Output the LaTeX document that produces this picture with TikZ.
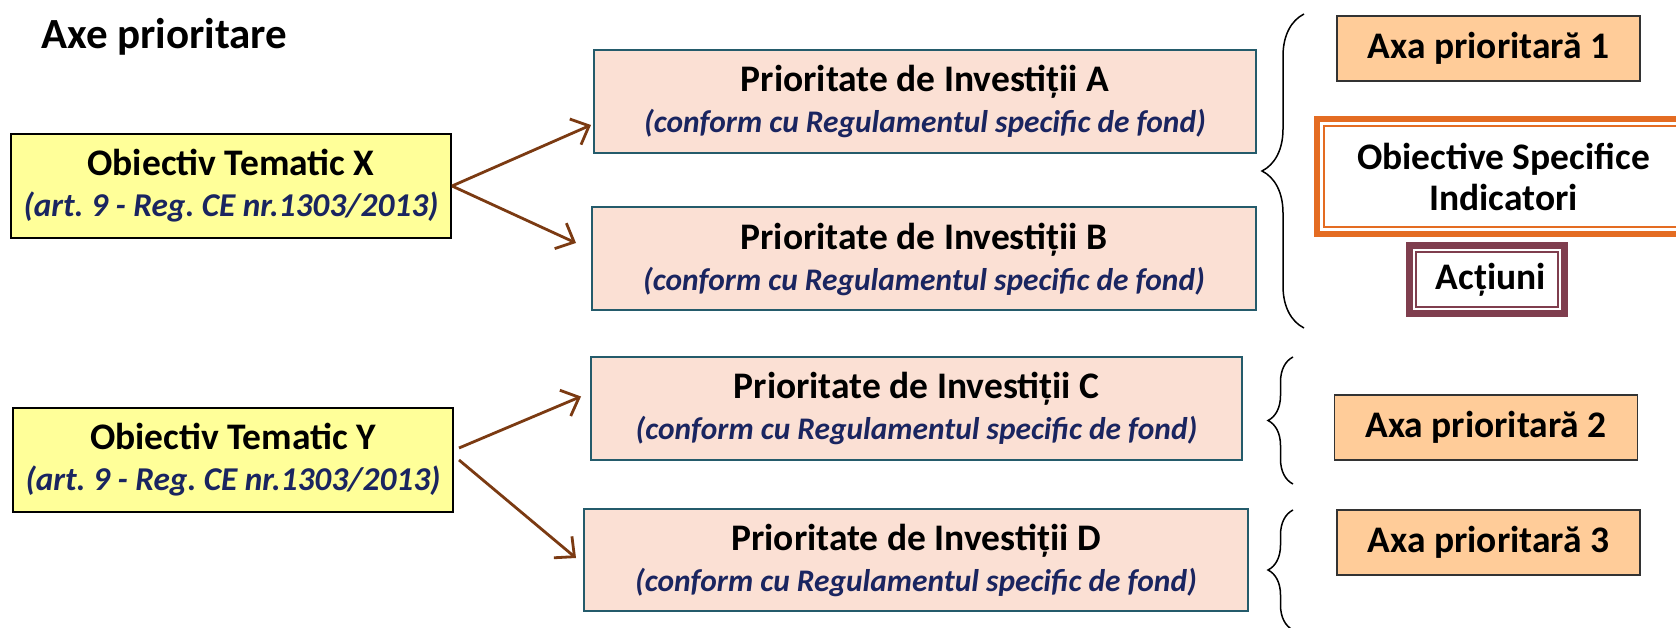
\documentclass[tikz,border=0pt]{standalone}
\usepackage{fontspec}
\setmainfont{Carlito}
\usepackage{xcolor}
\usepackage{tikz}
\usetikzlibrary{arrows.meta,decorations.pathreplacing}
\frenchspacing
\definecolor{navy}{HTML}{1A2560}
\definecolor{lemon}{HTML}{FFFF99}
\definecolor{peach}{HTML}{FBE0D4}
\definecolor{piedge}{HTML}{245B6B}
\definecolor{apricot}{HTML}{FFCC99}
\definecolor{rust}{HTML}{7B3A12}
\definecolor{flame}{HTML}{E46C22}
\definecolor{wine}{HTML}{7F3E4E}
\newcommand\hdfont{\fontsize{37.5}{41}\selectfont\bfseries}
\newcommand\subfont{\fontsize{31.4}{41}\selectfont\bfseries\itshape\color{navy}}
\newcommand\refont{\fontsize{33.3}{41}\selectfont\bfseries\itshape\color{navy}}
\newcommand\ttlfont{\fontsize{43}{50}\selectfont\bfseries}
\tikzset{
  obj/.style={draw=black, fill=lemon, line width=2pt, minimum width=440pt, minimum height=104pt, align=center, inner sep=0pt, font=\fontsize{32}{41}\selectfont},
  inv/.style={draw=piedge, fill=peach, line width=2pt, minimum height=103pt, align=center, inner sep=0pt, font=\fontsize{32}{41}\selectfont},
  axa/.style={draw=black!80, fill=apricot, line width=1.5pt, minimum width=303pt, minimum height=65pt, inner sep=0pt, font=\hdfont},
  link/.style={draw=rust, line width=2.8pt, -{Straight Barb[length=15pt,width=28pt]}},
  brc/.style={draw=black, line width=1.5pt, decorate, decoration={brace, amplitude=#1}},
}

\begin{document}
\begin{tikzpicture}[x=1pt,y=-1pt]
  \useasboundingbox (0,0) rectangle (1676,628);

  \node[anchor=base west, inner sep=0pt] (ttl) at (41,49) {\ttlfont Axe prioritare};

  % obiective tematice
  \node[obj] (objX) at (231,186) {\hdfont Obiectiv Tematic X\\ \refont (art. 9 - Reg. CE nr.1303/2013)};
  \node[obj] (objY) at (233,460) {\hdfont Obiectiv Tematic Y\\ \refont (art. 9 - Reg. CE nr.1303/2013)};

  % prioritati de investitii
  \node[inv, minimum width=662pt] (piA) at (925,101.5) {\hdfont Prioritate de Investiții A\\ \subfont (conform cu Regulamentul specific de fond)};
  \node[inv, minimum width=664pt] (piB) at (924,259) {\hdfont Prioritate de Investiții B\\ \subfont (conform cu Regulamentul specific de fond)};
  \node[inv, minimum width=651pt] (piC) at (916.5,408.5) {\hdfont Prioritate de Investiții C\\ \subfont (conform cu Regulamentul specific de fond)};
  \node[inv, minimum width=664pt, minimum height=102pt] (piD) at (916,560) {\hdfont Prioritate de Investiții D\\ \subfont (conform cu Regulamentul specific de fond)};

  \draw[link] (objX.east) -- ([shift={(-2,23.5)}]piA.west);
  \draw[link] (objX.east) -- ([shift={(-15,-16)}]piB.west);
  \draw[link] ([shift={(5,-12)}]objY.east) -- ([shift={(-9,-12)}]piC.west);
  \draw[link] ([shift={(5,0)}]objY.east) -- ([shift={(-7,-2)}]piD.west);

  % acolade
  \draw[brc=42pt] (1304,328) -- (1304,14);
  \draw[brc=25pt] (1293,484) -- (1293,357);
  \draw[brc=25pt] (1293,630) -- (1293,510);

  % axe
  \node[axa] (axa1) at (1488.5,48.5) {Axa prioritară 1};
  \node[axa] (axa2) at (1486,427.5) {Axa prioritară 2};
  \node[axa] (axa3) at (1488.5,542.5) {Axa prioritară 3};

  \node[draw=flame, line width=6pt, minimum width=373pt, minimum height=115pt, align=center, inner sep=0pt, font=\hdfont] (osi) at (1503.5,176.5) {Obiective Specifice\\ Indicatori};
  \draw[flame, line width=1.5pt] ([shift={(10,10)}]osi.north west) rectangle ([shift={(-10,-10)}]osi.south east);
  \node[draw=wine, line width=7pt, minimum width=155pt, minimum height=68pt, inner sep=0pt, font=\hdfont] (act) at (1487,279.5) {\hspace{8pt}Acțiuni};
  \draw[wine, line width=1.5pt] ([shift={(10,10)}]act.north west) rectangle ([shift={(-10,-10)}]act.south east);
\end{tikzpicture}
\end{document}
